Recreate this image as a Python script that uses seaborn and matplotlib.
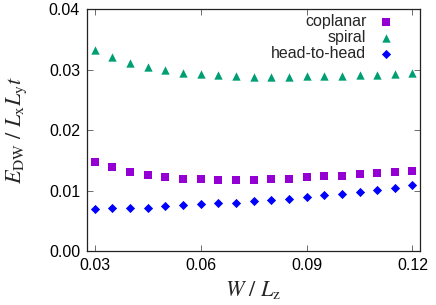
import numpy as np
import pandas as pd
import matplotlib
matplotlib.use("Agg")
import matplotlib.pyplot as plt
import seaborn as sns

w = [0.030, 0.035, 0.040, 0.045, 0.050, 0.055, 0.060, 0.065, 0.070, 0.075,
     0.080, 0.085, 0.090, 0.095, 0.100, 0.105, 0.110, 0.115, 0.120]
coplanar = [0.0148, 0.0139, 0.0131, 0.0126, 0.0123, 0.0120, 0.0119, 0.0118, 0.0118, 0.0118,
            0.0119, 0.0120, 0.0122, 0.0124, 0.0125, 0.0127, 0.0129, 0.0131, 0.0133]
spiral = [0.0333, 0.0321, 0.0312, 0.0305, 0.0299, 0.0295, 0.0293, 0.0291, 0.0289, 0.0288,
          0.0288, 0.0288, 0.0289, 0.0289, 0.0290, 0.0291, 0.0292, 0.0293, 0.0295]
head_to_head = [0.0070, 0.0071, 0.0071, 0.0072, 0.0074, 0.0076, 0.0078, 0.0079, 0.0080, 0.0082,
                0.0084, 0.0086, 0.0089, 0.0092, 0.0095, 0.0098, 0.0101, 0.0105, 0.0109]
series = ["coplanar", "spiral", "head-to-head"]
colors = ["#9400d3", "#009e73", "#0000ff"]
markers = ["s", "^", "D"]
sizes = [36, 36, 22]
xticks = [0.03, 0.06, 0.09, 0.12]
yticks = [0.00, 0.01, 0.02, 0.03, 0.04]

df = pd.DataFrame({
    "W": w * 3,
    "E": coplanar + spiral + head_to_head,
    "config": [s for s in series for _ in w],
})

sns.set_theme(style="ticks")
plt.rcParams["font.family"] = ["Liberation Sans", "DejaVu Sans"]
plt.rcParams["mathtext.fontset"] = "stix"

fig = plt.figure(figsize=(4.36, 3.05), dpi=100)
ax = fig.add_axes([0.1995, 0.177, 0.7635, 0.792])

for name, c, m, s in zip(series, colors, markers, sizes):
    sub = df[df["config"] == name]
    sns.scatterplot(data=sub, x="W", y="E", color=c, marker=m, s=s,
                    linewidth=0, ax=ax, label=name)

ax.set_xlim(0.0278, 0.1221)
ax.set_ylim(0.0, 0.04)
ax.set_xticks(xticks)
ax.set_xticklabels([f"{t:.2f}" for t in xticks])
ax.set_yticks(yticks)
ax.set_yticklabels([f"{t:.2f}" for t in yticks])
ax.tick_params(direction="in", length=4, width=0.6, color="#555555",
               labelsize=11.5, labelcolor="black", top=True, right=True, pad=5)
for sp in ax.spines.values():
    sp.set_color("#222222")
    sp.set_linewidth(0.9)

ax.set_xlabel(r"$W\ /\ L_{\rm z}$", fontsize=16, labelpad=4)
ax.set_ylabel(r"$E_{\rm DW}\ /\ L_{\rm x}L_{\rm y}t$", fontsize=16, labelpad=14)

leg = ax.legend(loc="upper right", bbox_to_anchor=(0.94, 1.0), markerfirst=False,
                frameon=False, fontsize=11.5, handletextpad=0.6, labelspacing=0.05,
                borderaxespad=0.1, handlelength=1.2, borderpad=0.2)

fig.savefig("out.png", dpi=100)
